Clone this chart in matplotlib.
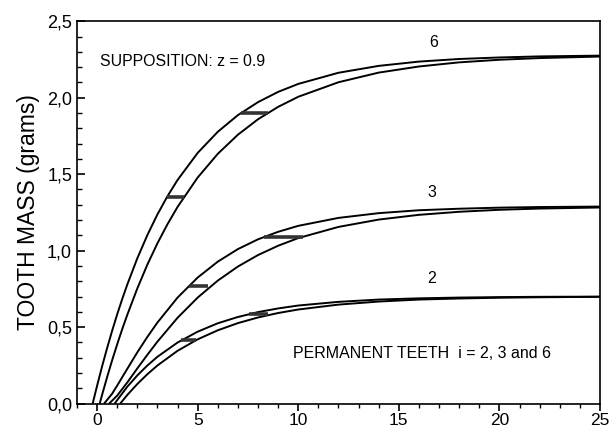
import matplotlib
matplotlib.use("Agg")
import matplotlib.pyplot as plt
from matplotlib.ticker import MultipleLocator, FuncFormatter

# ---- data ----
x6_outer = [-0.22, 0, 0.25, 0.5, 0.75, 1, 1.25, 1.5, 2, 2.5, 3, 3.5, 4, 5, 6, 7, 8, 9, 10, 12, 14, 16, 18, 20, 22, 25]
y6_outer = [0.0, 0.117, 0.244, 0.364, 0.477, 0.584, 0.684, 0.778, 0.950, 1.102, 1.237, 1.356, 1.462, 1.639,
            1.777, 1.886, 1.971, 2.038, 2.090, 2.163, 2.208, 2.236, 2.253, 2.263, 2.270, 2.275]
x6_inner = [0.13, 0.25, 0.5, 0.75, 1, 1.25, 1.5, 2, 2.5, 3, 3.5, 4, 5, 6, 7, 8, 9, 10, 12, 14, 16, 18, 20, 22, 25]
y6_inner = [0.0, 0.058, 0.174, 0.284, 0.388, 0.487, 0.580, 0.753, 0.909, 1.048, 1.173, 1.286, 1.478, 1.633,
            1.758, 1.859, 1.940, 2.006, 2.101, 2.164, 2.204, 2.231, 2.248, 2.259, 2.269]

x3_outer = [0.35, 0.75, 1, 1.5, 2, 2.5, 3, 4, 5, 6, 7, 8, 9, 10, 12, 14, 16, 18, 20, 22, 25]
y3_outer = [0.0, 0.065, 0.118, 0.227, 0.335, 0.436, 0.530, 0.693, 0.824, 0.928, 1.010, 1.074,
            1.123, 1.162, 1.214, 1.245, 1.264, 1.274, 1.281, 1.285, 1.288]
x3_inner = [0.6, 1, 1.5, 2, 2.5, 3, 4, 5, 6, 7, 8, 9, 10, 12, 14, 16, 18, 20, 22, 25]
y3_inner = [0.0, 0.052, 0.138, 0.230, 0.319, 0.405, 0.561, 0.693, 0.804, 0.896, 0.971, 1.032,
            1.082, 1.155, 1.203, 1.234, 1.254, 1.267, 1.275, 1.282]

x2_outer = [0.87, 1.5, 2, 2.5, 3, 4, 5, 6, 7, 8, 9, 10, 12, 14, 16, 18, 20, 22, 25]
y2_outer = [0.0, 0.110, 0.184, 0.249, 0.306, 0.399, 0.470, 0.525, 0.566, 0.598, 0.622, 0.641,
            0.665, 0.680, 0.688, 0.693, 0.696, 0.698, 0.699]
x2_inner = [1.15, 1.5, 2, 2.5, 3, 4, 5, 6, 7, 8, 9, 10, 12, 14, 16, 18, 20, 22, 25]
y2_inner = [0.0, 0.056, 0.128, 0.192, 0.249, 0.345, 0.420, 0.479, 0.526, 0.563, 0.592, 0.615,
            0.647, 0.667, 0.680, 0.687, 0.692, 0.695, 0.698]

# horizontal marker bars: (x start, x end, y)
bar_x0 = [3.48, 7.15, 4.55, 8.32, 4.18, 7.57]
bar_x1 = [4.32, 8.48, 5.53, 10.25, 4.90, 8.50]
bar_y = [1.352, 1.90, 0.766, 1.089, 0.413, 0.585]

curve_labels = ["6", "3", "2"]
curve_label_pos = [(16.75, 2.36), (16.65, 1.38), (16.65, 0.82)]

plt.rcParams['font.family'] = ['Liberation Sans', 'DejaVu Sans']

fig = plt.figure(figsize=(6.11, 4.33), dpi=100)
ax = fig.add_axes([0.126, 0.068, 0.856, 0.883])

for xs, ys in [(x6_outer, y6_outer), (x6_inner, y6_inner), (x3_outer, y3_outer),
               (x3_inner, y3_inner), (x2_outer, y2_outer), (x2_inner, y2_inner)]:
    ax.plot(xs, ys, color='black', lw=1.4, solid_capstyle='butt', solid_joinstyle='round')

ax.hlines(bar_y, bar_x0, bar_x1, colors='#333333', lw=2.6)

for lab, (lx, ly) in zip(curve_labels, curve_label_pos):
    ax.text(lx, ly, lab, fontsize=11.5, ha='center', va='center')

ax.text(0.15, 2.236, "SUPPOSITION: z = 0.9", fontsize=11.4, ha='left', va='center')
ax.text(9.75, 0.325, "PERMANENT TEETH  i = 2, 3 and 6", fontsize=11.5, ha='left', va='center')

ax.set_xlim(-1, 25)
ax.set_ylim(0, 2.5)
ax.xaxis.set_major_locator(MultipleLocator(5))
ax.xaxis.set_minor_locator(MultipleLocator(1))
ax.yaxis.set_major_locator(MultipleLocator(0.5))
ax.yaxis.set_minor_locator(MultipleLocator(0.1))
ax.yaxis.set_major_formatter(FuncFormatter(lambda v, p: f"{v:.1f}".replace('.', ',')))

ax.tick_params(axis='x', which='major', direction='out', length=5, width=1.2, labelsize=12.5, pad=2)
ax.tick_params(axis='x', which='minor', direction='out', length=3, width=1)
ax.tick_params(axis='y', which='major', direction='in', length=6, width=1.2, labelsize=13)
ax.tick_params(axis='y', which='minor', direction='in', length=3.5, width=1)

for s in ax.spines.values():
    s.set_linewidth(1.2)

ax.set_ylabel("TOOTH MASS (grams)", fontsize=16.5, labelpad=5)

fig.savefig("out.png", dpi=100)
